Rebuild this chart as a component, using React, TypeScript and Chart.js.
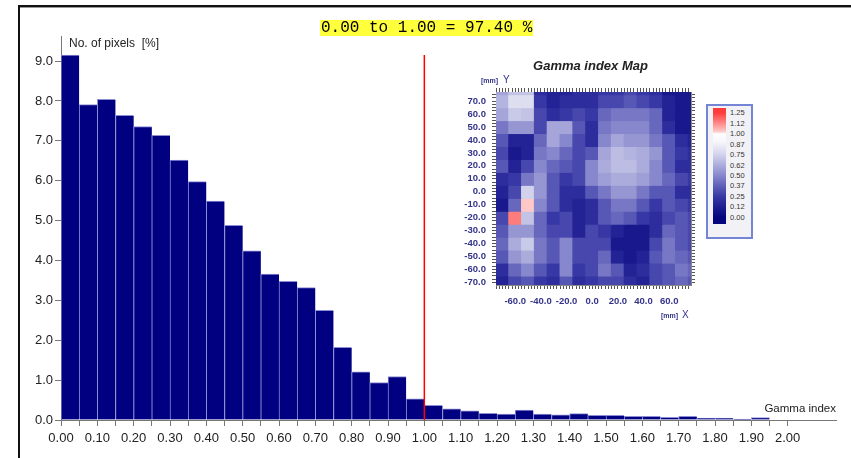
import React, { useEffect, useRef } from "react";
import { Chart, registerables } from "chart.js";
Chart.register(...registerables);

// ---------- Histogram data ----------
const BIN_WIDTH = 0.05;
const BIN_STARTS = [
  0.0, 0.05, 0.1, 0.15, 0.2, 0.25, 0.3, 0.35, 0.4, 0.45,
  0.5, 0.55, 0.6, 0.65, 0.7, 0.75, 0.8, 0.85, 0.9, 0.95,
  1.0, 1.05, 1.1, 1.15, 1.2, 1.25, 1.3, 1.35, 1.4, 1.45,
  1.5, 1.55, 1.6, 1.65, 1.7, 1.75, 1.8, 1.85, 1.9, 1.95,
];
const PIXEL_PERCENT = [
  9.15, 7.91, 8.04, 7.64, 7.36, 7.14, 6.52, 5.98, 5.49, 4.88,
  4.24, 3.66, 3.48, 3.32, 2.75, 1.82, 1.21, 0.94, 1.09, 0.53,
  0.37, 0.28, 0.23, 0.17, 0.15, 0.25, 0.15, 0.13, 0.16, 0.12,
  0.12, 0.09, 0.09, 0.07, 0.09, 0.05, 0.05, 0.02, 0.06, 0.01,
];
const X_TICK_MAX = 2.0;
const Y_TICK_MAX = 9;
const THRESHOLD = 1.0;
const PASS_TEXT = "0.00 to 1.00 = 97.40 %";
const Y_TITLE = "No. of pixels  [%]";
const X_TITLE = "Gamma index";

// ---------- Gamma map data (10 mm cells) ----------
const MAP_TITLE = "Gamma index Map";
const CELL = 10;
const MAP_TICK_STEP = 2.5;
const MAP_COLS_X = [-70, -60, -50, -40, -30, -20, -10, 0, 10, 20, 30, 40, 50, 60, 70, 80];
const MAP_ROWS_Y = [80, 70, 60, 50, 40, 30, 20, 10, 0, -10, -20, -30, -40, -50, -60, -70];
const GAMMA_MAP = [
  [0.6, 0.7, 0.7, 0.2, 0.15, 0.15, 0.2, 0.2, 0.25, 0.25, 0.3, 0.25, 0.2, 0.1, 0.1, 0.1],
  [0.65, 0.8, 0.8, 0.25, 0.15, 0.2, 0.2, 0.2, 0.3, 0.3, 0.35, 0.3, 0.25, 0.15, 0.1, 0.1],
  [0.6, 0.72, 0.7, 0.3, 0.2, 0.25, 0.3, 0.25, 0.4, 0.45, 0.45, 0.45, 0.4, 0.15, 0.1, 0.1],
  [0.45, 0.55, 0.55, 0.3, 0.6, 0.6, 0.35, 0.2, 0.45, 0.5, 0.5, 0.5, 0.4, 0.2, 0.1, 0.1],
  [0.35, 0.15, 0.15, 0.4, 0.6, 0.5, 0.3, 0.2, 0.5, 0.6, 0.55, 0.55, 0.45, 0.35, 0.2, 0.15],
  [0.3, 0.1, 0.15, 0.45, 0.5, 0.4, 0.3, 0.35, 0.6, 0.68, 0.65, 0.62, 0.55, 0.35, 0.25, 0.2],
  [0.35, 0.15, 0.3, 0.5, 0.4, 0.35, 0.3, 0.5, 0.62, 0.68, 0.68, 0.62, 0.5, 0.35, 0.2, 0.2],
  [0.2, 0.25, 0.45, 0.55, 0.35, 0.25, 0.3, 0.5, 0.58, 0.62, 0.62, 0.58, 0.5, 0.4, 0.3, 0.25],
  [0.15, 0.3, 0.75, 0.55, 0.35, 0.2, 0.2, 0.35, 0.45, 0.55, 0.55, 0.45, 0.35, 0.35, 0.2, 0.2],
  [0.1, 0.4, 1.03, 0.5, 0.35, 0.2, 0.15, 0.2, 0.35, 0.45, 0.45, 0.35, 0.25, 0.35, 0.3, 0.25],
  [0.3, 1.15, 0.7, 0.4, 0.25, 0.3, 0.15, 0.2, 0.35, 0.4, 0.35, 0.25, 0.2, 0.3, 0.35, 0.3],
  [0.35, 0.55, 0.55, 0.4, 0.3, 0.3, 0.15, 0.3, 0.25, 0.15, 0.1, 0.1, 0.2, 0.4, 0.35, 0.3],
  [0.4, 0.62, 0.72, 0.45, 0.35, 0.5, 0.3, 0.3, 0.3, 0.1, 0.1, 0.1, 0.3, 0.45, 0.35, 0.3],
  [0.35, 0.55, 0.62, 0.45, 0.35, 0.5, 0.3, 0.3, 0.4, 0.15, 0.1, 0.15, 0.35, 0.45, 0.4, 0.35],
  [0.2, 0.4, 0.5, 0.35, 0.25, 0.5, 0.25, 0.3, 0.45, 0.35, 0.15, 0.2, 0.3, 0.35, 0.45, 0.4],
  [0.15, 0.3, 0.35, 0.25, 0.2, 0.35, 0.2, 0.25, 0.3, 0.3, 0.2, 0.15, 0.3, 0.35, 0.4, 0.35],
];
const COLORBAR_LABELS = ["1.25", "1.12", "1.00", "0.87", "0.75", "0.62", "0.50", "0.37", "0.25", "0.12", "0.00"];

const COLOR_STOPS: [number, number[]][] = [
  [0.0, [5, 5, 125]],
  [0.25, [55, 55, 165]],
  [0.5, [135, 135, 205]],
  [0.75, [210, 210, 236]],
  [0.9, [245, 245, 252]],
  [1.0, [255, 255, 255]],
  [1.03, [255, 200, 200]],
  [1.25, [255, 60, 60]],
];

function gammaColor(v: number): string {
  if (v <= COLOR_STOPS[0][0]) return `rgb(${COLOR_STOPS[0][1].join(",")})`;
  for (let i = 1; i < COLOR_STOPS.length; i++) {
    const [v1, c1] = COLOR_STOPS[i];
    const [v0, c0] = COLOR_STOPS[i - 1];
    if (v <= v1) {
      const t = (v - v0) / (v1 - v0);
      const c = c0.map((a, k) => Math.round(a + (c1[k] - a) * t));
      return `rgb(${c.join(",")})`;
    }
  }
  return `rgb(${COLOR_STOPS[COLOR_STOPS.length - 1][1].join(",")})`;
}

function stepTicks(min: number, max: number, step: number) {
  const out: { value: number }[] = [];
  const k0 = Math.ceil(min / step - 1e-9);
  const k1 = Math.floor(max / step + 1e-9);
  for (let k = k0; k <= k1; k++) out.push({ value: Math.round(k * step * 1000) / 1000 });
  return out;
}

const SANS = '"Liberation Sans", Arial, sans-serif';

export default function App() {
  const mainRef = useRef<HTMLCanvasElement>(null);
  const mapRef = useRef<HTMLCanvasElement>(null);

  useEffect(() => {
    const overlay = {
      id: "overlay",
      afterDatasetsDraw(chart: any) {
        const { ctx, chartArea, scales } = chart;
        const x = scales.x.getPixelForValue(THRESHOLD);
        ctx.save();
        ctx.strokeStyle = "#ff0000";
        ctx.lineWidth = 1.5;
        ctx.beginPath();
        ctx.moveTo(x, chartArea.top + 19);
        ctx.lineTo(x, chartArea.bottom);
        ctx.stroke();
        ctx.fillStyle = "#222";
        ctx.font = `12px ${SANS}`;
        ctx.textBaseline = "middle";
        ctx.textAlign = "left";
        ctx.fillText(Y_TITLE, chartArea.left + 8, chartArea.top + 8);
        ctx.textAlign = "right";
        ctx.font = `11.5px ${SANS}`;
        ctx.fillText(X_TITLE, chartArea.right, chartArea.bottom - 11);
        ctx.restore();
      },
    };

    const main = new Chart(mainRef.current!, {
      type: "bar",
      data: {
        datasets: [
          {
            data: BIN_STARTS.map((s, i) => ({ x: s + BIN_WIDTH / 2, y: PIXEL_PERCENT[i] })),
            backgroundColor: "#000080",
            borderColor: "#8d8dd4",
            borderWidth: { top: 1, left: 1, right: 0, bottom: 0 },
            barPercentage: 1,
            categoryPercentage: 1,
          } as any,
        ],
      },
      options: {
        responsive: false,
        animation: false,
        layout: { padding: { left: 0, top: 36, right: 15, bottom: 0 } },
        plugins: { legend: { display: false }, tooltip: { enabled: false } },
        scales: {
          x: {
            type: "linear",
            min: 0,
            max: 2.133,
            offset: false,
            grid: { drawOnChartArea: false, drawTicks: true, tickLength: 6, color: "#777", offset: false },
            border: { display: true, color: "#777" },
            ticks: {
              autoSkip: false,
              maxRotation: 0,
              minRotation: 0,
              padding: 5,
              color: "#222",
              font: { family: SANS, size: 13 },
              callback: (v: any) => (Math.round(Number(v) * 20) % 2 === 0 ? Number(v).toFixed(2) : ""),
            },
            afterBuildTicks: (s: any) => {
              s.ticks = stepTicks(0, X_TICK_MAX, BIN_WIDTH);
            },
            afterFit: (s: any) => {
              s.height = 38;
            },
          } as any,
          y: {
            type: "linear",
            min: 0,
            max: 9.63,
            grid: { drawOnChartArea: false, drawTicks: true, tickLength: 6, color: "#777" },
            border: { display: true, color: "#777" },
            ticks: {
              padding: 2,
              color: "#222",
              font: { family: SANS, size: 13 },
              callback: (v: any) => Number(v).toFixed(1),
            },
            afterBuildTicks: (s: any) => {
              s.ticks = stepTicks(0, Y_TICK_MAX, 1);
            },
            afterFit: (s: any) => {
              s.width = 61;
            },
          } as any,
        },
      },
      plugins: [overlay],
    });

    const mapText = {
      id: "mapText",
      afterDraw(chart: any) {
        const { ctx, chartArea } = chart;
        ctx.save();
        ctx.fillStyle = "#222";
        ctx.textAlign = "center";
        ctx.textBaseline = "middle";
        ctx.font = `italic bold 13px ${SANS}`;
        ctx.fillText(MAP_TITLE, (chartArea.left + chartArea.right) / 2 - 3, 11);
        ctx.fillStyle = "#33338a";
        ctx.textAlign = "left";
        ctx.font = `bold 7px ${SANS}`;
        ctx.fillText("[mm]", chartArea.left - 15, chartArea.top - 11);
        ctx.font = `10px ${SANS}`;
        ctx.fillText("Y", chartArea.left + 7, chartArea.top - 12);
        ctx.font = `bold 7px ${SANS}`;
        ctx.fillText("[mm]", chartArea.right - 30, chartArea.bottom + 31);
        ctx.font = `10px ${SANS}`;
        ctx.fillText("X", chartArea.right - 9, chartArea.bottom + 30);
        ctx.restore();
      },
    };

    const X_MIN = -75, X_MAX = 77, Y_MIN = -72, Y_MAX = 77;
    const tickFont = { family: SANS, size: 9.5, weight: "bold" as const };
    const frameAxis = (pos: string, min: number, max: number, size: number, horizontal: boolean, label: (n: number) => string, pad: number) => ({
      type: "linear",
      position: pos,
      min,
      max,
      offset: false,
      grid: { drawOnChartArea: false, drawTicks: true, tickLength: 4, color: "#555", offset: false },
      border: { display: true, color: "#888" },
      ticks: {
        autoSkip: false,
        maxRotation: 0,
        minRotation: 0,
        padding: pad,
        color: "#34348a",
        font: tickFont,
        callback: (v: any) => label(Number(v)),
      },
      afterBuildTicks: (s: any) => {
        s.ticks = stepTicks(min, max, MAP_TICK_STEP);
      },
      afterFit: (s: any) => {
        if (horizontal) s.height = size;
        else s.width = size;
      },
    });
    const none = () => "";
    const xLabel = (n: number) => (Math.abs(n) <= 60.01 && Math.round(n / 2.5) % 8 === 0 ? n.toFixed(1) : "");
    const yLabel = (n: number) => (Math.abs(n) <= 70.01 && Math.round(n / 2.5) % 4 === 0 ? n.toFixed(1) : "");

    const map = new Chart(mapRef.current!, {
      type: "bar",
      data: {
        datasets: MAP_ROWS_Y.map((ry, j) => ({
          data: MAP_COLS_X.map((cx) => ({ x: cx, y: [ry - CELL / 2, ry + CELL / 2] })),
          backgroundColor: GAMMA_MAP[j].map(gammaColor),
          borderWidth: 0,
          grouped: false,
          barPercentage: 1,
          categoryPercentage: 1,
          inflateAmount: 0.6,
          xAxisID: "xc",
          yAxisID: "y",
        })) as any,
      },
      options: {
        responsive: false,
        animation: false,
        layout: { padding: 0 },
        plugins: { legend: { display: false }, tooltip: { enabled: false } },
        scales: {
          xc: {
            type: "linear",
            axis: "x",
            position: "bottom",
            display: false,
            min: X_MIN,
            max: X_MAX,
            offset: false,
            afterBuildTicks: (s: any) => {
              s.ticks = MAP_COLS_X.map((v) => ({ value: v }));
            },
          } as any,
          x: frameAxis("bottom", X_MIN, X_MAX, 45, true, xLabel, 7) as any,
          x2: frameAxis("top", X_MIN, X_MAX, 37, true, none, 2) as any,
          y: frameAxis("left", Y_MIN, Y_MAX, 56, false, yLabel, 6) as any,
          y2: frameAxis("right", Y_MIN, Y_MAX, 19, false, none, 2) as any,
        },
      },
      plugins: [mapText],
    });

    return () => {
      main.destroy();
      map.destroy();
    };
  }, []);

  const gradient =
    "linear-gradient(to bottom, " +
    [...COLOR_STOPS]
      .reverse()
      .map(([v, c]) => `rgb(${c.join(",")}) ${(5 + ((1.25 - v) / 1.25) * 104.4).toFixed(1)}px`)
      .join(", ") +
    ")";

  return (
    <div style={{ position: "fixed", left: 0, top: 0, width: 851, height: 458, background: "#fff", overflow: "hidden" }}>
      <canvas ref={mainRef} width={851} height={458} style={{ position: "absolute", left: 0, top: 0 }} />
      <div style={{ position: "absolute", left: 18, top: 5, right: 0, height: 2, background: "#111" }} />
      <div style={{ position: "absolute", left: 18, top: 7, right: 0, height: 1, background: "#999" }} />
      <div style={{ position: "absolute", left: 18, top: 5, width: 2, bottom: 0, background: "#111" }} />
      <div
        style={{
          position: "absolute",
          left: 320,
          top: 20,
          height: 16,
          lineHeight: "16px",
          fontFamily: '"Liberation Mono", "Courier New", monospace',
          fontSize: 16,
          background: "#ffff3c",
          color: "#000",
          whiteSpace: "pre",
          padding: "0 1px",
        }}
      >
        {PASS_TEXT}
      </div>
      <canvas ref={mapRef} width={270} height={275} style={{ position: "absolute", left: 440, top: 55 }} />
      <div
        style={{
          position: "absolute",
          left: 706,
          top: 104,
          width: 43,
          height: 131,
          border: "2px solid #7585d5",
          background: "#f2f2f6",
        }}
      >
        <div style={{ position: "absolute", left: 5, top: 2, width: 13, height: 116, background: gradient }} />
        {COLORBAR_LABELS.map((t, i) => (
          <div
            key={t}
            style={{
              position: "absolute",
              left: 22,
              top: 7.3 + i * 10.44 - 5,
              height: 10,
              lineHeight: "10px",
              fontFamily: SANS,
              fontSize: 7.5,
              color: "#333",
            }}
          >
            {t}
          </div>
        ))}
      </div>
    </div>
  );
}
